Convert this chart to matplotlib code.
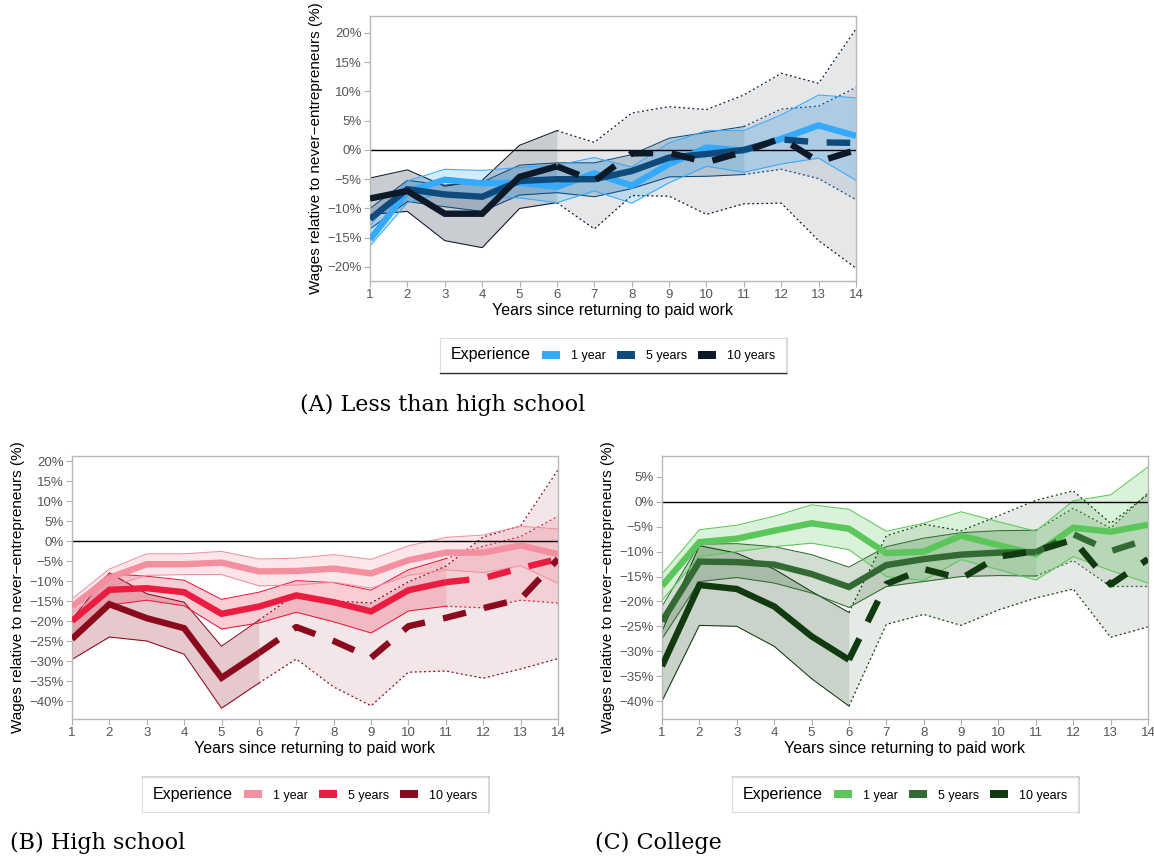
import matplotlib
matplotlib.use('Agg')
import matplotlib.pyplot as plt
from matplotlib.patches import Patch
from matplotlib.lines import Line2D

W, H = 1154, 856

years = list(range(1, 15))
exp_labels = ['1 year', '5 years', '10 years']
solid_until = [14, 11, 6]

# Panel A: Less than high school
A_1_est = [-15.3, -7.1, -5.1, -5.7, -5.6, -6.3, -4.0, -6.1, -2.4, 0.4, -0.1, 1.9, 4.2, 2.4]
A_1_hi = [-13.0, -5.3, -3.3, -3.5, -3.0, -2.6, -1.3, -2.9, 1.2, 3.3, 3.3, 6.0, 9.4, 8.9]
A_1_lo = [-16.4, -9.0, -7.2, -8.0, -8.2, -9.0, -7.0, -9.1, -5.6, -2.8, -3.8, -2.4, -1.4, -5.2]
A_5_est = [-11.8, -6.7, -7.6, -8.0, -5.3, -5.0, -5.0, -3.6, -1.3, -0.7, 0.0, 1.8, 1.3, 1.2]
A_5_hi = [-10.0, -5.2, -6.0, -5.5, -2.6, -2.2, -2.2, -0.8, 2.0, 3.0, 4.0, 7.0, 7.5, 10.7]
A_5_lo = [-13.5, -8.8, -9.7, -10.5, -7.7, -7.3, -8.0, -6.6, -4.6, -4.5, -4.2, -3.3, -4.9, -8.5]
A_10_est = [-8.3, -7.0, -10.9, -10.9, -4.6, -2.8, -5.3, -0.6, -0.5, -2.1, -0.3, 2.0, -2.0, 0.0]
A_10_hi = [-4.8, -3.4, -6.2, -5.2, 0.8, 3.3, 1.3, 6.3, 7.4, 6.9, 9.4, 13.1, 11.4, 20.7]
A_10_lo = [-11.0, -10.5, -15.5, -16.7, -10.0, -9.0, -13.5, -7.8, -7.9, -11.0, -9.2, -9.1, -15.5, -20.2]

# Panel B: High school
B_1_est = [-16.4, -9.2, -5.8, -5.8, -5.4, -7.6, -7.5, -6.9, -8.1, -4.8, -2.9, -2.9, -1.1, -3.3]
B_1_hi = [-14.5, -7.0, -3.2, -3.2, -2.6, -4.5, -4.3, -3.4, -4.6, -1.2, 0.9, 1.5, 3.7, 3.0]
B_1_lo = [-18.0, -11.4, -8.6, -8.4, -8.4, -11.2, -11.0, -10.3, -11.8, -8.6, -7.2, -7.9, -6.2, -10.6]
B_5_est = [-20.0, -12.2, -11.8, -12.8, -18.2, -16.4, -13.6, -15.3, -17.6, -12.3, -10.3, -9.3, -6.8, -4.5]
B_5_hi = [-16.0, -8.2, -8.8, -9.8, -14.6, -12.8, -9.9, -10.4, -12.3, -7.2, -4.4, -1.3, 1.1, 6.2]
B_5_lo = [-24.0, -16.0, -14.8, -16.2, -22.0, -20.5, -17.8, -20.2, -23.0, -17.5, -16.3, -16.7, -14.8, -15.5]
B_10_est = [-24.5, -15.8, -19.3, -21.8, -34.2, -28.0, -21.5, -25.0, -29.2, -21.3, -19.2, -16.8, -14.5, -4.5]
B_10_hi = [-19.5, -8.0, -13.2, -15.3, -26.3, -19.8, -13.2, -15.0, -15.5, -10.2, -6.3, 1.0, 3.8, 17.8]
B_10_lo = [-29.6, -24.0, -25.0, -28.3, -41.8, -35.5, -29.5, -36.5, -41.2, -32.8, -32.5, -34.3, -32.0, -29.4]

# Panel C: College
C_1_est = [-16.9, -8.1, -7.4, -5.8, -4.3, -5.4, -10.3, -10.0, -6.8, -8.7, -10.5, -5.2, -6.0, -4.6]
C_1_hi = [-14.5, -5.6, -4.7, -2.9, -0.6, -1.5, -5.9, -4.3, -2.0, -4.0, -5.9, 0.2, 1.4, 7.0]
C_1_lo = [-19.8, -11.0, -10.0, -9.0, -8.3, -9.6, -15.0, -15.8, -11.6, -13.6, -15.7, -11.0, -13.8, -16.3]
C_5_est = [-24.0, -12.0, -12.1, -12.6, -14.5, -17.1, -12.7, -11.5, -10.6, -10.2, -10.1, -6.5, -9.9, -7.5]
C_5_hi = [-21.0, -8.5, -8.4, -9.0, -10.6, -13.1, -9.0, -7.3, -6.2, -5.8, -5.7, -1.3, -5.3, 1.8]
C_5_lo = [-27.5, -16.0, -15.2, -16.3, -18.3, -21.2, -17.0, -16.0, -15.0, -14.8, -14.9, -11.8, -17.0, -17.0]
C_10_est = [-33.0, -16.7, -17.5, -21.0, -27.0, -31.7, -16.5, -13.5, -15.4, -11.0, -9.9, -7.6, -16.6, -11.5]
C_10_hi = [-26.0, -8.8, -10.3, -13.5, -18.0, -22.2, -6.8, -4.5, -5.8, -2.8, 0.3, 2.2, -4.3, 1.5]
C_10_lo = [-40.0, -24.8, -25.0, -29.0, -35.5, -41.0, -24.6, -22.6, -24.8, -21.7, -19.3, -17.5, -27.2, -25.1]

A_colors = ['#35A9FB', '#0E4A7B', '#0B1929']
B_colors = ['#F48FA0', '#EA1C3F', '#8C0A1E']
C_colors = ['#5BC75A', '#336A33', '#113A11']

panels = [
    dict(rect=(370, 16, 856, 281), ylim=(-22.4, 22.9), yticks=list(range(-20, 21, 5)),
         est=[A_1_est, A_5_est, A_10_est], lo=[A_1_lo, A_5_lo, A_10_lo], hi=[A_1_hi, A_5_hi, A_10_hi],
         colors=A_colors, leg=(613, 355), cap='(A) Less than high school', cap_pos=(300, 405), dark=('bottom', 'right')),
    dict(rect=(72, 456, 558, 719), ylim=(-44.5, 21.25), yticks=list(range(-40, 21, 5)),
         est=[B_1_est, B_5_est, B_10_est], lo=[B_1_lo, B_5_lo, B_10_lo], hi=[B_1_hi, B_5_hi, B_10_hi],
         colors=B_colors, leg=(315, 794), cap='(B) High school', cap_pos=(10, 843), dark=('top', 'right')),
    dict(rect=(662, 456, 1148, 719), ylim=(-43.6, 9.2), yticks=list(range(-40, 6, 5)),
         est=[C_1_est, C_5_est, C_10_est], lo=[C_1_lo, C_5_lo, C_10_lo], hi=[C_1_hi, C_5_hi, C_10_hi],
         colors=C_colors, leg=(905, 794), cap='(C) College', cap_pos=(595, 843), dark=('top', 'right')),
]

plt.rcParams['font.family'] = ['Liberation Sans', 'DejaVu Sans']
fig = plt.figure(figsize=(W / 100, H / 100), dpi=100)

legends = []
for p in panels:
    x0, y0, x1, y1 = p['rect']
    ax = fig.add_axes([x0 / W, 1 - y1 / H, (x1 - x0) / W, (y1 - y0) / H])
    for i in [2, 1, 0]:
        c = p['colors'][i]
        k = solid_until[i]
        lo, hi = p['lo'][i], p['hi'][i]
        ax.fill_between(years[:k], lo[:k], hi[:k], color=c, alpha=0.22, lw=0, zorder=1)
        ax.plot(years[:k], lo[:k], color=c, lw=0.75, zorder=1.5)
        ax.plot(years[:k], hi[:k], color=c, lw=0.75, zorder=1.5)
        if k < len(years):
            ax.fill_between(years[k - 1:], lo[k - 1:], hi[k - 1:], color=c, alpha=0.10, lw=0, zorder=1)
            ax.plot(years[k - 1:], lo[k - 1:], color=c, lw=0.9, ls=(0, (1.5, 2.2)), zorder=1.5)
            ax.plot(years[k - 1:], hi[k - 1:], color=c, lw=0.9, ls=(0, (1.5, 2.2)), zorder=1.5)
    ax.axhline(0, color='black', lw=1.0, zorder=2)
    for i in [0, 1, 2]:
        c = p['colors'][i]
        k = solid_until[i]
        est = p['est'][i]
        ax.plot(years[:k], est[:k], color=c, lw=4.6, solid_capstyle='butt', solid_joinstyle='miter', zorder=3 + i)
        if k < len(years):
            ax.plot(years[k - 1:], est[k - 1:], color=c, lw=4.6, ls=(0, (3.7, 2.9)),
                    dash_capstyle='butt', zorder=3 + i)
    ax.set_xlim(1, 14)
    ax.set_ylim(*p['ylim'])
    ax.set_xticks(years)
    ax.set_yticks(p['yticks'])
    ax.set_yticklabels([f'{v}%'.replace('-', '\u2212') for v in p['yticks']])
    for s in ax.spines.values():
        s.set_color('#b8b8b8')
        s.set_linewidth(1.0)
    ax.tick_params(colors='#b0b0b0', labelcolor='#555555', labelsize=9.5, length=4, width=0.8, pad=2)
    ax.set_xlabel('Years since returning to paid work', fontsize=11.5, labelpad=1)
    ax.set_ylabel('Wages relative to never\u2212entrepreneurs (%)', fontsize=11, labelpad=3)

    handles = [Patch(facecolor=c, edgecolor='none') for c in p['colors']]
    cx, cy = p['leg']
    leg = fig.legend(handles, exp_labels, loc='center', bbox_to_anchor=(cx / W, 1 - cy / H), ncol=3,
                     title='Experience', frameon=True, fancybox=False, fontsize=9, title_fontsize=11.5,
                     handlelength=1.45, handleheight=0.55, handletextpad=0.88, columnspacing=0.9,
                     borderpad=0.8, edgecolor='#dddddd', framealpha=1)
    leg.get_frame().set_linewidth(0.8)
    box = leg.get_children()[0]
    title = box.get_children()[0]
    hpack = box.get_children()[1]
    box._children = [hpack]
    hpack._children = [title] + hpack.get_children()
    legends.append((leg, p['dark']))

    fig.text(p['cap_pos'][0] / W, 1 - p['cap_pos'][1] / H, p['cap'], family=['DejaVu Serif'],
             fontsize=16, va='center', ha='left')

fig.canvas.draw()
for leg, dark in legends:
    bb = leg.get_window_extent()
    xa, xb = bb.x0 / W, bb.x1 / W
    ya, yb = bb.y0 / H, bb.y1 / H
    segs = {'top': ([xa, xb], [yb, yb]), 'bottom': ([xa, xb], [ya, ya]),
            'right': ([xb, xb], [ya, yb]), 'left': ([xa, xa], [ya, yb])}
    for d in dark:
        xs, ys = segs[d]
        fig.add_artist(Line2D(xs, ys, transform=fig.transFigure, color='#222222', lw=1.0))

fig.savefig('out.png', dpi=100)
